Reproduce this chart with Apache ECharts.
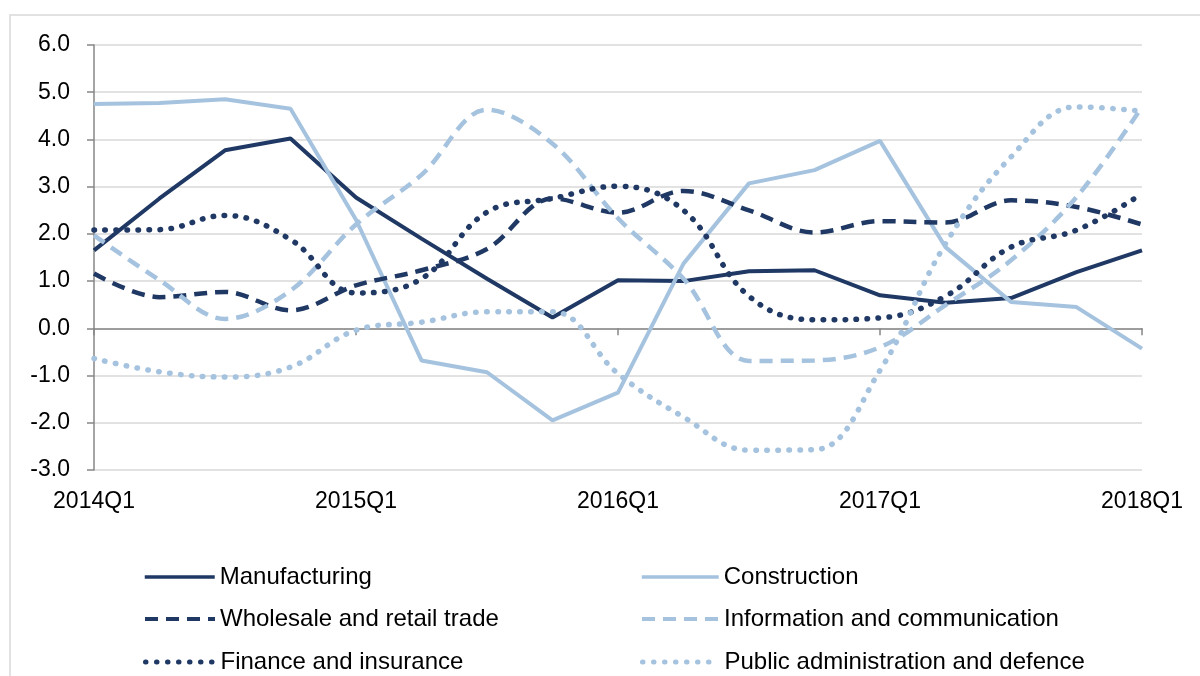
<!DOCTYPE html>
<html style="height: 100%">
   <head>
       <meta charset="utf-8">
   </head>
   <body style="height: 100%; margin: 0; background: #fff">
       <div id="container" style="width: 1200px; height: 676px"></div>
       <script type="text/javascript" src="https://cdn.jsdelivr.net/npm/echarts@6/dist/echarts.min.js"></script>
       <script type="text/javascript">
var quarters = ['2014Q1', '2014Q2', '2014Q3', '2014Q4',
                '2015Q1', '2015Q2', '2015Q3', '2015Q4',
                '2016Q1', '2016Q2', '2016Q3', '2016Q4',
                '2017Q1', '2017Q2', '2017Q3', '2017Q4',
                '2018Q1'];

var manufacturing = [1.65, 2.75, 3.77, 4.02, 2.77, 1.9, 1.05, 0.23, 1.02, 1.0, 1.21, 1.23, 0.70, 0.54, 0.64, 1.19, 1.65];
var construction  = [4.75, 4.77, 4.85, 4.65, 2.3, -0.68, -0.93, -1.95, -1.36, 1.37, 3.07, 3.35, 3.97, 1.72, 0.56, 0.45, -0.43];
var wholesale     = [1.16, 0.66, 0.77, 0.38, 0.91, 1.23, 1.68, 2.75, 2.45, 2.91, 2.5, 2.03, 2.27, 2.24, 2.71, 2.57, 2.2];
var infoComm      = [1.97, 1.02, 0.2, 0.8, 2.2, 3.25, 4.63, 3.91, 2.33, 1.05, -0.69, -0.68, -0.4, 0.49, 1.44, 2.78, 4.69];
var finance       = [2.08, 2.09, 2.39, 1.88, 0.75, 1.05, 2.46, 2.75, 3.01, 2.5, 0.68, 0.18, 0.22, 0.68, 1.72, 2.08, 2.85];
var publicAdmin   = [-0.64, -0.92, -1.03, -0.82, -0.04, 0.13, 0.35, 0.35, -0.96, -1.88, -2.58, -2.57, -0.89, 1.79, 3.63, 4.69, 4.6];

var dark = '#1F3864';
var light = '#A5C3DE';
var dashPattern = [13, 8];
var dotPattern = [0.5, 10.5];

var dom = document.getElementById("container");
var myChart = echarts.init(dom);

function line(name, data, color, type, width, smooth) {
    return {
        name: name,
        type: 'line',
        data: data,
        symbol: 'none',
        smooth: smooth,
        animation: false,
        lineStyle: {
            color: color,
            width: width,
            type: type,
            cap: type === dotPattern ? 'round' : 'butt'
        },
        emphasis: { disabled: true },
        itemStyle: { color: color }
    };
}

// one legend per entry, laid out like the 2x3 grid of the original
function legendItem(name, left, centerY, iconWidth, lineWidth) {
    return {
        data: [name],
        left: left,
        top: centerY - 12,
        itemWidth: iconWidth,
        itemHeight: 14,
        itemStyle: { opacity: 0 },
        lineStyle: { width: lineWidth },
        textStyle: {
            fontFamily: 'Liberation Sans',
            fontSize: 24,
            lineHeight: 24,
            color: '#000'
        }
    };
}

var option = {
    backgroundColor: '#fff',
    animation: false,
    graphic: [{
        type: 'rect',
        shape: { x: 10, y: 15, width: 1300, height: 800 },
        style: { fill: 'none', stroke: '#D9D9D9', lineWidth: 1.5 },
        silent: true
    }],
    grid: { left: 94, right: 58, top: 45, bottom: 206 },
    legend: [
        legendItem('Manufacturing', 138, 572, 70, 3.5),
        legendItem('Wholesale and retail trade', 138, 614, 70, 4),
        legendItem('Finance and insurance', 138, 657, 70, 5),
        legendItem('Construction', 635, 572, 77, 3.5),
        legendItem('Information and communication', 635, 614, 77, 4),
        legendItem('Public administration and defence', 635, 657, 77, 5)
    ],
    xAxis: [{
        type: 'category',
        data: quarters,
        boundaryGap: false,
        axisLine: { onZero: true, lineStyle: { color: '#868686', width: 1.5 } },
        axisTick: { show: true, interval: 3, length: 7, lineStyle: { color: '#868686', width: 1.5 } },
        axisLabel: { show: false },
        splitLine: { show: false }
    }, {
        type: 'category',
        data: quarters,
        boundaryGap: false,
        position: 'bottom',
        axisLine: { show: false, onZero: false },
        axisTick: { show: false },
        axisLabel: {
            interval: 3,
            margin: 20,
            fontFamily: 'Liberation Sans',
            fontSize: 23,
            color: '#000'
        },
        splitLine: { show: false }
    }],
    yAxis: {
        type: 'value',
        min: -3,
        max: 6,
        interval: 1,
        axisLine: { show: true, lineStyle: { color: '#868686', width: 1.5 } },
        axisTick: { show: true, length: 7, lineStyle: { color: '#868686', width: 1.5 } },
        axisLabel: {
            margin: 24,
            fontFamily: 'Liberation Sans',
            fontSize: 23,
            color: '#000',
            formatter: function (v) { return v.toFixed(1); }
        },
        splitLine: { lineStyle: { color: '#D9D9D9', width: 1.5 } }
    },
    series: [
        line('Manufacturing', manufacturing, dark, 'solid', 4, false),
        line('Construction', construction, light, 'solid', 4, false),
        line('Wholesale and retail trade', wholesale, dark, dashPattern, 4.5, 0.35),
        line('Information and communication', infoComm, light, dashPattern, 4.5, 0.35),
        line('Finance and insurance', finance, dark, dotPattern, 5.5, 0.4),
        line('Public administration and defence', publicAdmin, light, dotPattern, 5.5, 0.4)
    ]
};

myChart.setOption(option);
       </script>
   </body>
</html>
